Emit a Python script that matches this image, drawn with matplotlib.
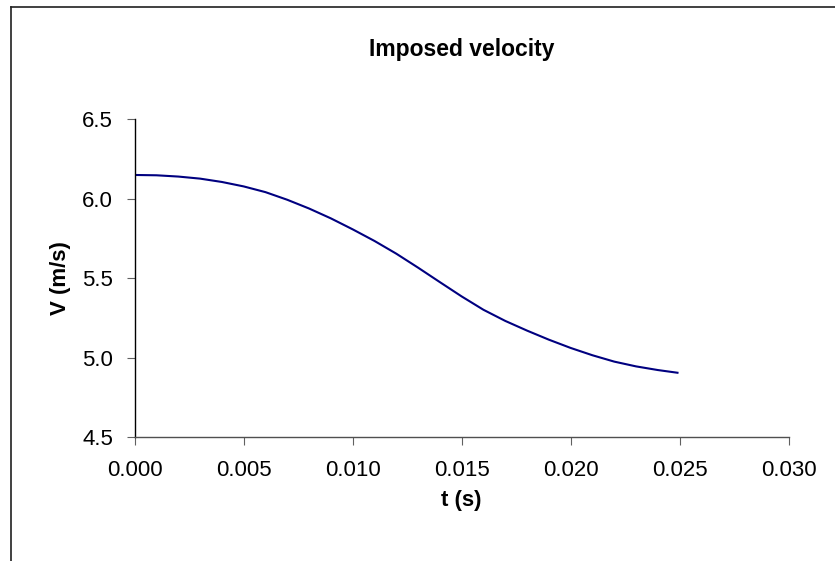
import matplotlib.pyplot as plt
from matplotlib.lines import Line2D

plt.rcParams['font.family'] = ['Liberation Sans', 'DejaVu Sans']

# data
t_s = [0.0000, 0.0010, 0.0020, 0.0030, 0.0040, 0.0050, 0.0060, 0.0070,
       0.0080, 0.0090, 0.0100, 0.0110, 0.0120, 0.0130, 0.0140, 0.0150,
       0.0160, 0.0170, 0.0180, 0.0190, 0.0200, 0.0210, 0.0220, 0.0230,
       0.0240, 0.0249]
v_ms = [6.150, 6.148, 6.140, 6.127, 6.106, 6.078, 6.042, 5.994,
        5.939, 5.877, 5.808, 5.735, 5.655, 5.567, 5.476, 5.386,
        5.302, 5.232, 5.171, 5.114, 5.062, 5.016, 4.976, 4.946,
        4.923, 4.906]

x_ticks = [0.000, 0.005, 0.010, 0.015, 0.020, 0.025, 0.030]
y_ticks = [4.5, 5.0, 5.5, 6.0, 6.5]

fig = plt.figure(figsize=(8.35, 5.61), dpi=100)
ax = fig.add_axes([0.1613, 0.2205, 0.7832, 0.5668])

ax.plot(t_s, v_ms, color='#000080', linewidth=1.5)

ax.set_xlim(0, 0.030)
ax.set_ylim(4.5, 6.5)
ax.set_xticks(x_ticks)
ax.set_xticklabels([f'{v:.3f}' for v in x_ticks])
ax.set_yticks(y_ticks)
ax.set_yticklabels([f'{v:.1f}' for v in y_ticks])

ax.spines['top'].set_visible(False)
ax.spines['right'].set_visible(False)
ax.spines['left'].set_color('black')
ax.spines['bottom'].set_color('#505050')
ax.spines['left'].set_linewidth(1.0)
ax.spines['bottom'].set_linewidth(1.0)

ax.tick_params(axis='both', direction='out', length=5.5, width=0.8,
               color='#606060', labelsize=16)
ax.tick_params(axis='x', pad=11)
ax.tick_params(axis='y', pad=10)

ax.set_xlabel('t (s)', fontsize=16, fontweight='bold', labelpad=6)
ax.set_ylabel('V (m/s)', fontsize=16, fontweight='bold', labelpad=8)

fig.text(0.5529, 0.911, 'Imposed velocity', ha='center', va='center',
         fontsize=16.5, fontweight='bold')

# partial outer frame (left and top edges)
fig.add_artist(Line2D([0.0132, 0.0132], [0.0, 0.988], transform=fig.transFigure,
                      color='#202020', linewidth=1.2))
fig.add_artist(Line2D([0.0132, 1.0], [0.988, 0.988], transform=fig.transFigure,
                      color='#202020', linewidth=1.2))

fig.savefig('out.png', dpi=100)
